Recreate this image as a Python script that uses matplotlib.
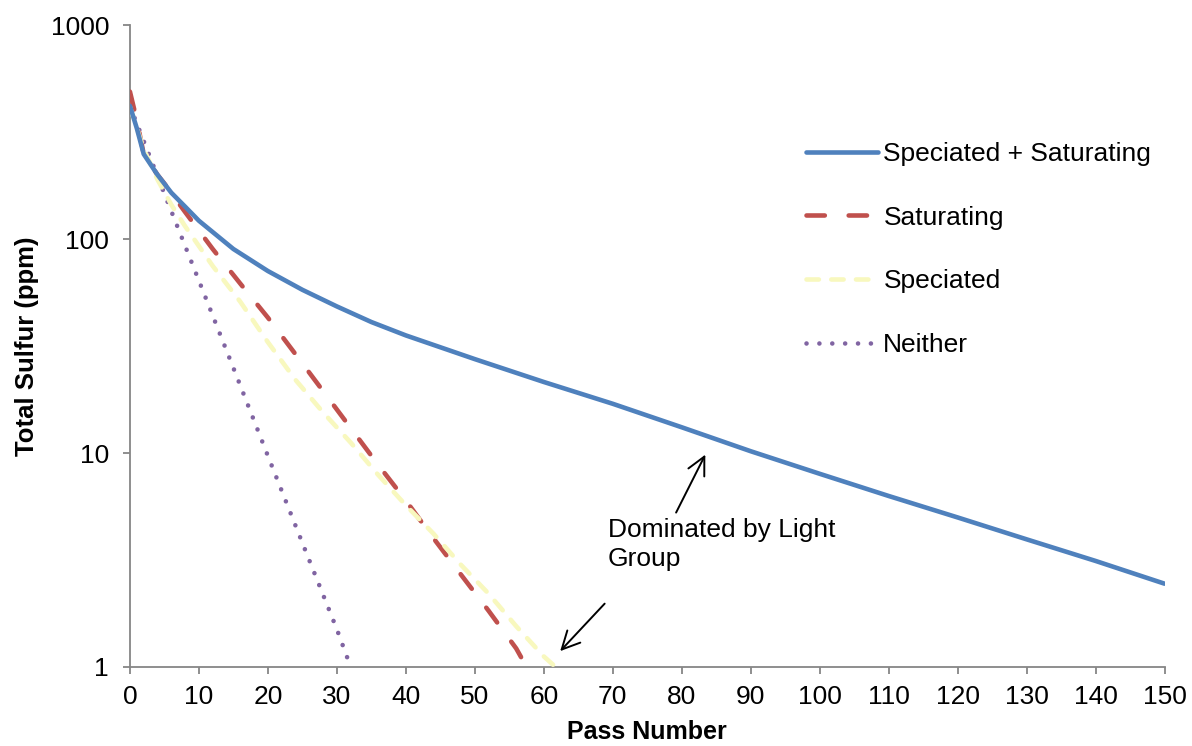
import numpy as np
import matplotlib
matplotlib.use("Agg")
import matplotlib.pyplot as plt
from matplotlib.ticker import FixedLocator, FixedFormatter, NullLocator

plt.rcParams['font.family'] = ['Liberation Sans', 'DejaVu Sans']

# Speciated + Saturating
pass_both = [0, 1, 2, 4, 6, 8, 10, 15, 20, 25, 30, 35, 40, 50, 60, 70, 80, 90, 100, 110, 120, 130, 140, 150]
sulfur_both = [420, 330, 250, 200, 165, 142, 122, 90, 71, 58, 48.5, 41, 35.5, 27.5, 21.5, 17, 13.2, 10.2, 8.0, 6.3, 5.0, 3.95, 3.13, 2.45]

# Saturating
pass_sat = [0, 1, 2, 4, 5, 8, 12, 16, 20, 24, 28, 32, 36, 40, 44, 48, 52, 56, 57.5]
sulfur_sat = [490, 360, 250, 200, 182, 134, 90, 62, 43, 29, 19.5, 13.1, 8.8, 6.0, 4.0, 2.7, 1.83, 1.22, 1.0]

# Speciated
pass_spec = [0, 2, 4, 6, 8, 12, 16, 20, 24, 28, 32, 36, 40, 44, 48, 52, 56, 60, 62]
sulfur_spec = [415, 265, 190, 145, 115, 75, 51, 33, 22, 15.5, 11.2, 7.9, 5.7, 4.2, 3.0, 2.2, 1.55, 1.12, 0.98]

# Neither
pass_none = [0, 5, 10, 15, 20, 25, 30, 32]
sulfur_none = [420, 163, 64, 25, 9.7, 3.8, 1.5, 1.0]

x_ticks = list(range(0, 151, 10))
y_ticks = [1, 10, 100, 1000]
y_tick_labels = ['1', '10', '100', '1000']

fs = 19

fig = plt.figure(figsize=(11.92, 7.46), dpi=100)
ax = fig.add_axes([0.109, 0.106, 0.868, 0.860])

lw = 3.3
ax.plot(pass_both, sulfur_both, color='#4F81BD', lw=lw, solid_capstyle='round',
        label='Speciated + Saturating', zorder=4)
ax.plot(pass_sat, sulfur_sat, color='#C0504D', lw=lw, dashes=(4.0, 5.2),
        dash_capstyle='round', label='Saturating', zorder=3)
ax.plot(pass_spec, sulfur_spec, color='#F8F8BE', lw=lw, dashes=(2.7, 2.7),
        dash_capstyle='round', label='Speciated', zorder=3)
ax.plot(pass_none, sulfur_none, color='#8064A2', lw=lw, dashes=(0.01, 2.8),
        dash_capstyle='round', label='Neither', zorder=2)

ax.set_yscale('log')
ax.set_xlim(0, 150)
ax.set_ylim(1, 1000)
ax.xaxis.set_major_locator(FixedLocator(x_ticks))
ax.yaxis.set_major_locator(FixedLocator(y_ticks))
ax.yaxis.set_major_formatter(FixedFormatter(y_tick_labels))
ax.yaxis.set_minor_locator(NullLocator())

for side in ['top', 'right']:
    ax.spines[side].set_visible(False)
for side in ['left', 'bottom']:
    ax.spines[side].set_color('#868686')
    ax.spines[side].set_linewidth(1.3)
ax.tick_params(axis='both', direction='out', length=5, width=1.3, color='#868686',
               labelsize=fs, labelcolor='black')
ax.tick_params(axis='x', pad=8)
ax.tick_params(axis='y', pad=10)

ax.set_xlabel('Pass Number', fontsize=18, fontweight='bold', labelpad=8)
ax.set_ylabel('Total Sulfur (ppm)', fontsize=18.5, fontweight='bold', labelpad=8)

leg = ax.legend(loc='upper left', bbox_to_anchor=(0.630, 0.855), frameon=False,
                fontsize=fs, handlelength=2.75, handletextpad=0.2, labelspacing=1.5)

ax.text(69.3, 4.97, 'Dominated by Light\nGroup', fontsize=fs, ha='left', va='top',
        linespacing=1.28)
ax.annotate('', xy=(83.6, 10.1), xytext=(79.0, 5.13),
            arrowprops=dict(arrowstyle='->', color='black', lw=1.4, mutation_scale=32))
ax.annotate('', xy=(62.1, 1.16), xytext=(69.1, 2.02),
            arrowprops=dict(arrowstyle='->', color='black', lw=1.4, mutation_scale=32))

fig.savefig('out.png', dpi=100)
